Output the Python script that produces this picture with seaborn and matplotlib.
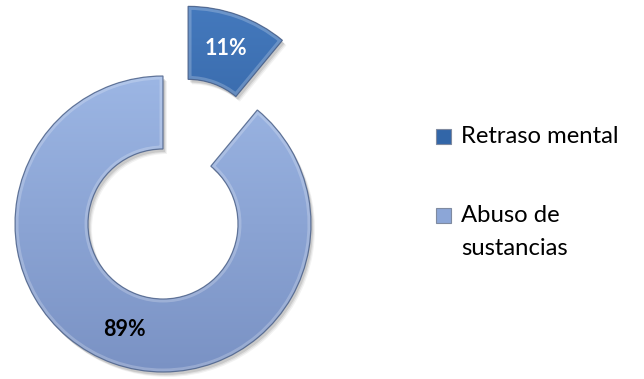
import numpy as np
import matplotlib
matplotlib.use("Agg")
import matplotlib.pyplot as plt
import seaborn as sns
from matplotlib.colors import LinearSegmentedColormap
from matplotlib.patches import Rectangle, Wedge

# Data
categories = ["Retraso mental", "Abuso de sustancias"]
legend_lines = [["Retraso mental"], ["Abuso de", "sustancias"]]
shares = [11, 89]

sns.set_theme(style="white")
plt.rcParams["font.family"] = ["Lato", "DejaVu Sans"]

W, H = 644, 379
fig = plt.figure(figsize=(W / 100, H / 100), dpi=100)
ax = fig.add_axes([0, 0, 1, 1])

# Palette: dark and light accent blue, each with a top/bottom shade
base_colors = ["#3266A8", "#8CA6D7"]
top_colors = ["#4479BD", "#9CB6E4"]
bottom_colors = ["#27538F", "#7A92C4"]
edge_color = "#4A5F86"
label_colors = ["white", "black"]

outer_r = 148
hole_r = 75
center = (163, H - 224)
explode = [0.5 * outer_r, 0]

wedges, texts, autotexts = ax.pie(
    shares,
    startangle=90,
    counterclock=False,
    radius=outer_r,
    center=center,
    explode=explode,
    colors=base_colors,
    autopct=lambda p: f"{p:.0f}%",
    pctdistance=0.76,
    wedgeprops=dict(width=outer_r - hole_r, linewidth=0),
    textprops=dict(fontsize=15.5, fontweight="bold"),
    frame=True,
)

# Soft drop shadow, vertical shading, bevel highlight and outline per segment
for w, top, bot in zip(wedges, top_colors, bottom_colors):
    cx, cy = w.center
    for k, a in enumerate([0.10, 0.07, 0.05]):
        sh = Wedge((cx + 2 + k, cy - 3 - k), w.r, w.theta1, w.theta2,
                   width=w.width, facecolor="black", alpha=a,
                   linewidth=0, zorder=0.5)
        ax.add_patch(sh)
    cmap = LinearSegmentedColormap.from_list("shade", [bot, top])
    grad = np.linspace(0, 1, 256).reshape(-1, 1)
    img = ax.imshow(grad, cmap=cmap, origin="lower", aspect="auto",
                    extent=(cx - w.r, cx + w.r, cy - w.r, cy + w.r),
                    zorder=1.1, interpolation="bicubic")
    img.set_clip_path(w)
    glow = Wedge((cx, cy), w.r, w.theta1, w.theta2, width=w.width,
                 facecolor="none", edgecolor="white", linewidth=5,
                 alpha=0.22, zorder=1.15)
    ax.add_patch(glow)
    glow.set_clip_path(w)
    outline = Wedge((cx, cy), w.r, w.theta1, w.theta2, width=w.width,
                    facecolor="none", edgecolor=edge_color,
                    linewidth=0.9, alpha=0.8, zorder=1.2)
    ax.add_patch(outline)

for t, c in zip(autotexts, label_colors):
    t.set_color(c)
    t.set_zorder(3)

# Legend drawn as marker squares with wrapped labels
legend_x = 436
marker_size = 15
first_baselines = [143, 222]
line_step = 33
for color, lines, base in zip(base_colors, legend_lines, first_baselines):
    yc = H - (base - 7)
    ax.add_patch(Rectangle((legend_x, yc - marker_size / 2), marker_size,
                           marker_size, facecolor=color,
                           edgecolor="#7F8AA0", linewidth=0.8, zorder=2))
    for i, line in enumerate(lines):
        ax.text(461, H - (base + i * line_step), line,
                fontsize=17.2, color="black", va="baseline", ha="left")

ax.set_xlim(0, W)
ax.set_ylim(0, H)
ax.set_aspect("auto")
ax.axis("off")

fig.savefig("out.png", dpi=100, facecolor="white")
